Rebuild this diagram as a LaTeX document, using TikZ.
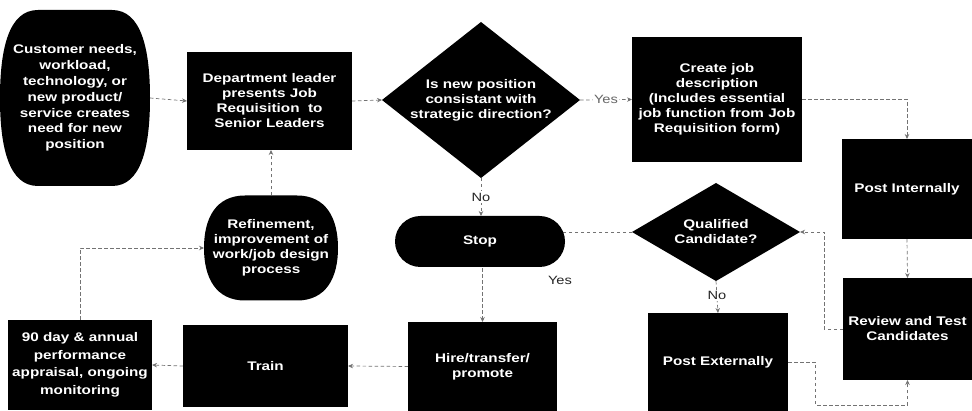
\documentclass[tikz,border=0pt]{standalone}
\usepackage{fontspec}
\setmainfont{Liberation Sans}[FakeStretch=1.22]
\usetikzlibrary{shapes.geometric,arrows.meta}
\pgfdeclarelayer{background}
\pgfdeclarelayer{fills}
\pgfsetlayers{background,fills,main}
\begin{document}
\begin{tikzpicture}[x=1pt,y=-1pt,
  every node/.style={inner sep=0pt,outer sep=0pt},
  sz/.style 2 args={minimum width=#1pt,minimum height=#2pt},
  wtxt/.style={text=white,align=center,
    font=\fontsize{12.5pt}{15pt}\selectfont\bfseries},
  blk/.style={wtxt,fill=black},
  box/.style={blk,rectangle},
  oval/.style={blk,rectangle,rounded corners=#1},
  dia/.style={diamond,fill=black},
  conn/.style={draw=black!55,line width=0.7pt,dash pattern=on 3.5pt off 2.5pt,
    -{Stealth[length=5pt,width=4.5pt]}},
  lbl/.style={font=\fontsize{12pt}{14pt}\selectfont,text=black!85,fill=white,inner sep=1.5pt}
]
\useasboundingbox (0,0) rectangle (972,411);
\clip (0,0) rectangle (972,411);

% --- top row ---
\node[wtxt,sz={150}{176},font=\fontsize{12.5pt}{15.8pt}\selectfont\bfseries] (cust) at (75,98)
  {Customer needs,\\workload,\\technology, or\\new product/\\service creates\\need for new\\position};
\node[box,sz={165}{98}] (dept) at (269.5,101)
  {Department leader\\presents Job\\Requisition\ \ to\\Senior Leaders};
\node[dia,sz={198}{156}] (q1) at (481,100) {};
\node[wtxt] (q1t) at (q1) {Is new position\\consistant with\\strategic direction?};
\node[box,sz={170}{125}] (job) at (717,99.5)
  {Create job\\description\\(Includes essential\\job function from Job\\Requisition form)};

% --- right column ---
\node[box,sz={130}{100}] (pint) at (907,189) {Post Internally};
\node[box,sz={129}{102}] (rev) at (907.5,329) {Review and Test\\Candidates};

% --- middle row ---
\node[dia,sz={168}{98}] (q2) at (716,232) {};
\node[wtxt] (q2t) at (q2) {Qualified\\Candidate?};
\node[oval=25.5pt,sz={170}{51}] (stop) at (480,241.5) {Stop};
\node[wtxt,sz={134}{105}] (ref) at (271,248)
  {Refinement,\\improvement of\\work/job design\\process};

% --- bottom row ---
\node[box,sz={144}{90},font=\fontsize{12.5pt}{17.5pt}\selectfont\bfseries] (perf) at (80,365)
  {90 day \& annual\\performance\\appraisal, ongoing\\monitoring};
\node[box,sz={165}{82}] (train) at (265.5,366) {Train};
\node[box,sz={149}{89}] (hire) at (482.5,366.5) {Hire/transfer/\\promote};
\node[box,sz={140}{98}] (pext) at (718,362) {Post Externally};

% barrel-shaped terminals behind their text
\begin{pgfonlayer}{fills}
\fill[black] (38,10) -- (112,10) .. controls (141,10) and (150,48) .. (150,98)
  .. controls (150,148) and (141,186) .. (112,186) -- (38,186)
  .. controls (9,186) and (0,148) .. (0,98)
  .. controls (0,48) and (9,10) .. (38,10) -- cycle;
\fill[black] (245,195.5) -- (297,195.5) .. controls (326,195.5) and (338,218) .. (338,248)
  .. controls (338,278) and (326,300.5) .. (297,300.5) -- (245,300.5)
  .. controls (216,300.5) and (204,278) .. (204,248)
  .. controls (204,218) and (216,195.5) .. (245,195.5) -- cycle;
\end{pgfonlayer}

% routing points
\coordinate (pe1) at (815,405);
\coordinate (rq) at (824,232);

\begin{pgfonlayer}{background}
\draw[conn] (cust.east) -- (dept.west);
\draw[conn] (dept.east) -- (q1.west);
\draw[conn] (q1.east) -- node[lbl,text=black!60] (yes1) {Yes} (job.west);
\draw[conn] (job.east) -| (pint.north);
\draw[conn] (pint.south) -- (rev.north);
\draw[conn] (pext.east) -| (pe1) -| (rev.south);
\draw[conn] (rev.west) -| (rq) -- (q2.east);
\draw[conn] (q2.west) -| (hire.north);
\draw[conn] (q2.south) -- node[lbl,pos=0.45] (no2) {No} (pext.north);
\draw[conn] (q1.south) -- node[lbl,pos=0.5] (no1) {No} (q1.south |- stop.north);
\draw[conn] (hire.west) -- (train.east);
\draw[conn] (train.west) -- (perf.east);
\draw[conn] (perf.north) |- (ref.west);
\draw[conn] (ref.north) -- (ref.north |- dept.south);
\end{pgfonlayer}
\node[lbl] (yes2) at (560,280) {Yes};
\end{tikzpicture}
\end{document}
